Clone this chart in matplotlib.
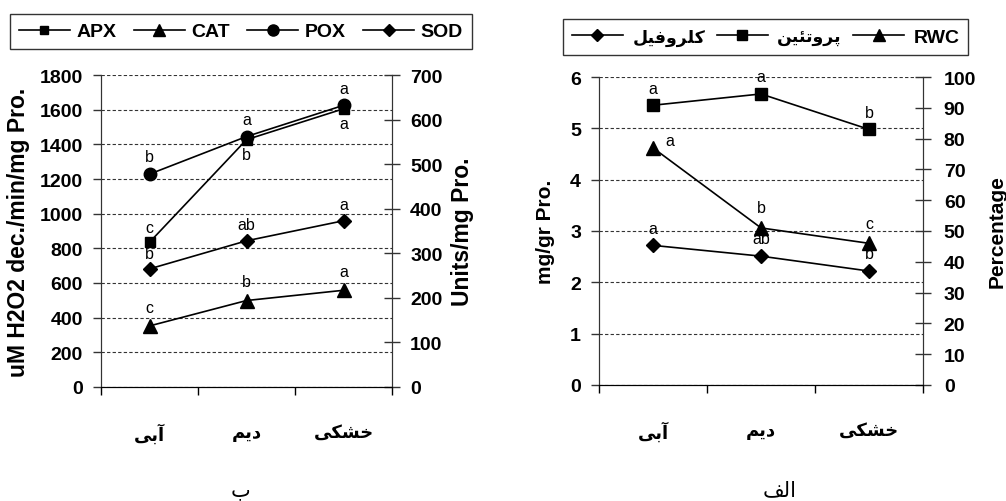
import matplotlib
matplotlib.use("Agg")
import matplotlib.pyplot as plt
from matplotlib.lines import Line2D

# Persian words are written with presentation forms, in visual (left-to-right) order,
# because matplotlib does no shaping or bidi.
cats = ["\uFEF0\uFE91\uFE81",          # آبی
        "\uFEE2\uFEF3\uFEA9",          # دیم
        "\uFEF0\uFEDC\uFEB8\uFEA7"]    # خشکی
lbl_b = "\uFE8F"                       # ب
lbl_alef = "\uFED2\uFEDF\uFE8D"        # الف
name_chl = "\uFEDE\uFEF4\uFED3\uFEED\uFEAE\uFEE0\uFB90"        # کلروفیل
name_pro = "\uFEE6\uFEF4\uFE8C\uFE97\uFEED\uFEAE\uFB58"        # پروتئین

# --- chart b : enzymes ---
apx = [835, 1427, 1605]        # left axis
pox = [1228, 1445, 1625]       # left axis
cat = [137, 194, 217]          # right axis
sod = [265, 328, 373]          # right axis
apx_let = ["c", "b", "a"]
pox_let = ["b", "a", "a"]
cat_let = ["c", "b", "a"]
sod_let = ["b", "ab", "a"]

# --- chart alef ---
protein = [5.45, 5.67, 4.98]   # left axis
chl = [2.72, 2.51, 2.22]       # left axis
rwc = [77, 51, 46]             # right axis
protein_let = ["a", "a", "b"]
chl_let = ["a", "ab", "b"]
rwc_let = ["a", "b", "c"]

plt.rcParams['font.family'] = ['Liberation Sans', 'DejaVu Sans']
ARAB = ['DejaVu Sans']
SPINE = '#333333'
TICK = 14

fig = plt.figure(figsize=(10.06, 5.02), dpi=100)
x = [0, 1, 2]


def style_axes(ax, ax2, ymax, ystep, y2max, y2step, pad_l, pad_r):
    ax.set_xlim(-0.5, 2.5)
    ax.set_ylim(0, ymax)
    ax2.set_ylim(0, y2max)
    ax.set_yticks(range(0, ymax + 1, ystep))
    ax2.set_yticks(range(0, y2max + 1, y2step))
    for a in (ax, ax2):
        a.spines['top'].set_visible(False)
        a.spines['left'].set_color(SPINE)
        a.spines['right'].set_color(SPINE)
        a.spines['bottom'].set_color('black')
    ax.grid(axis='y', linestyle=(0, (3, 2)), color='#333333', linewidth=0.8)
    ax.set_axisbelow(True)
    ax.tick_params(axis='y', direction='out', length=6, width=1, color=SPINE,
                   labelsize=TICK, pad=pad_l)
    ax2.tick_params(axis='y', direction='inout', length=12, width=1, color=SPINE,
                    labelsize=TICK, pad=pad_r)
    for t in ax.get_yticklabels() + ax2.get_yticklabels():
        t.set_fontweight('bold')
    # category labels at centres, tick marks at boundaries
    ax.set_xticks(x)
    ax.set_xticklabels(cats, family=ARAB, fontweight='bold', fontsize=13)
    ax.tick_params(axis='x', which='major', length=0, pad=26)
    ax.set_xticks([-0.5, 0.5, 1.5, 2.5], minor=True)
    ax.tick_params(axis='x', which='minor', direction='out', length=6, width=1)


def letters(ax, vals, lets, dx=0, dy=8):
    for xi, v, s in zip(x, vals, lets):
        ax.annotate(s, (xi, v), xytext=(dx, dy), textcoords='offset points',
                    ha='center', va='bottom', fontsize=11.5)


# ---------------- chart b ----------------
ax = fig.add_axes([0.1004, 0.2271, 0.2893, 0.6215])
ax2 = ax.twinx()
lw = 1.2
ax.plot(x, apx, color='black', lw=lw, marker='s', ms=7.5, zorder=3)
ax.plot(x, pox, color='black', lw=lw, marker='o', ms=9, zorder=3)
ax2.plot(x, cat, color='black', lw=lw, marker='^', ms=10, zorder=3)
ax2.plot(x, sod, color='black', lw=lw, marker='D', ms=7, zorder=3)
style_axes(ax, ax2, 1800, 200, 700, 100, 7, 7)
ax.set_ylabel("uM H2O2 dec./min/mg Pro.", fontsize=16.5, fontweight='bold', labelpad=7)
ax2.set_ylabel("Units/mg Pro.", fontsize=16.5, fontweight='bold', labelpad=6)

letters(ax, pox, pox_let, dy=7)
# APX: first above, others below
ax.annotate(apx_let[0], (0, apx[0]), xytext=(0, 5), textcoords='offset points',
            ha='center', va='bottom', fontsize=11.5)
for xi in (1, 2):
    ax.annotate(apx_let[xi], (xi, apx[xi]), xytext=(0, -5), textcoords='offset points',
                ha='center', va='top', fontsize=11.5)
letters(ax2, sod, sod_let, dy=6)
letters(ax2, cat, cat_let, dy=8)

h = [Line2D([], [], color='black', lw=lw, marker='s', ms=6),
     Line2D([], [], color='black', lw=lw, marker='^', ms=9),
     Line2D([], [], color='black', lw=lw, marker='o', ms=8),
     Line2D([], [], color='black', lw=lw, marker='D', ms=6.5)]
leg = fig.legend(h, ["APX", "CAT", "POX", "SOD"], ncol=4, loc='center',
                 bbox_to_anchor=(0.2396, 0.935), frameon=True, fancybox=False,
                 edgecolor='black', handlelength=2.6, handletextpad=0.35,
                 columnspacing=0.9, prop={'weight': 'bold', 'size': 14},
                 borderpad=0.45)
leg.get_frame().set_linewidth(1)

fig.text(0.2386, 0.004, lbl_b, family=ARAB, fontsize=15, ha='center', va='bottom')

# ---------------- chart alef ----------------
bx = fig.add_axes([0.5954, 0.2311, 0.3221, 0.6135])
bx2 = bx.twinx()
bx.plot(x, protein, color='black', lw=lw, marker='s', ms=9, zorder=3)
bx.plot(x, chl, color='black', lw=lw, marker='D', ms=7, zorder=3)
bx2.plot(x, rwc, color='black', lw=lw, marker='^', ms=10, zorder=3)
style_axes(bx, bx2, 6, 1, 100, 10, 7, 9)
bx.set_ylabel("mg/gr Pro.", fontsize=15, fontweight='bold', labelpad=11)
bx2.set_ylabel("Percentage", fontsize=15, fontweight='bold', labelpad=8)

letters(bx, protein, protein_let, dy=7)
letters(bx, chl, chl_let, dy=7)
bx2.annotate(rwc_let[0], (0, rwc[0]), xytext=(9, 0), textcoords='offset points',
             ha='left', va='bottom', fontsize=11.5)
for xi in (1, 2):
    bx2.annotate(rwc_let[xi], (xi, rwc[xi]), xytext=(0, 9), textcoords='offset points',
                 ha='center', va='bottom', fontsize=11.5)

h2 = [Line2D([], [], color='black', lw=lw, marker='D', ms=6.5),
      Line2D([], [], color='black', lw=lw, marker='s', ms=7),
      Line2D([], [], color='black', lw=lw, marker='^', ms=9)]
leg2 = fig.legend(h2, [name_chl, name_pro, "RWC"], ncol=3, loc='center',
                  bbox_to_anchor=(0.7614, 0.925), frameon=True, fancybox=False,
                  edgecolor='black', handlelength=2.6, handletextpad=0.5,
                  columnspacing=0.6, prop={'weight': 'bold', 'size': 14},
                  borderpad=0.45)
leg2.get_frame().set_linewidth(1)
for t in leg2.get_texts()[:2]:
    t.set_family(ARAB)
    t.set_fontsize(12.5)

fig.text(0.7754, 0.004, lbl_alef, family=ARAB, fontsize=15, ha='center', va='bottom')

plt.savefig("out.png", dpi=100)
